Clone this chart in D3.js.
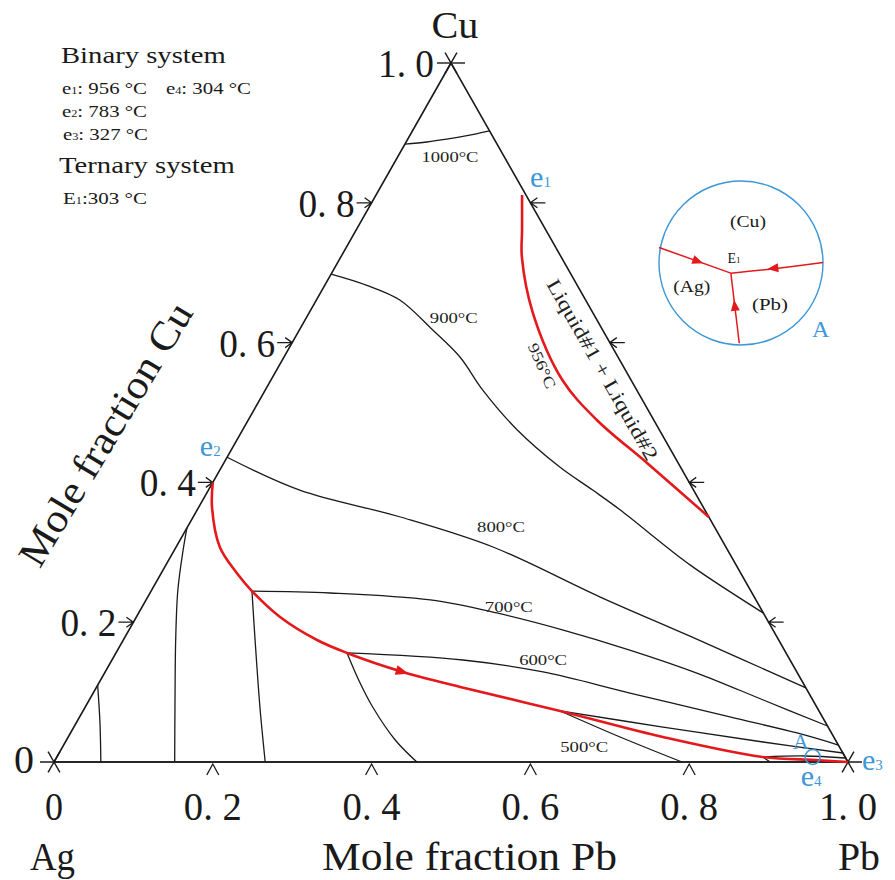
<!DOCTYPE html>
<html><head><meta charset="utf-8">
<script src="https://cdn.jsdelivr.net/npm/d3@7"></script>
<style>
body{margin:0;background:#fff}
svg{display:block}
text{font-family:"Liberation Serif","Times New Roman",serif;fill:#1a1a1a}
</style>
</head><body>
<svg id="chart" width="895" height="880"></svg>
<script>
// ---------------- data (ternary coordinates: [Pb fraction, Cu fraction]) ----------------
const tickValues = [0, 0.2, 0.4, 0.6, 0.8, 1.0];
const tickLabels = ["0", "0. 2", "0. 4", "0. 6", "0. 8", "1. 0"];
const innerTicks = [0.2, 0.4, 0.6, 0.8];

const iso1000 = [[0,0.884],[0.026,0.887],[0.049,0.891],[0.072,0.896],[0.097,0.903]];
const iso900  = [[0,0.698],[0.053,0.682],[0.105,0.661],[0.168,0.618],[0.222,0.579],[0.274,0.532],[0.346,0.475],[0.426,0.422],[0.484,0.389],[0.533,0.3605],[0.660,0.282],[0.787,0.213]];
const iso800  = [[0,0.436],[0.115,0.389],[0.261,0.3505],[0.399,0.3076],[0.570,0.236],[0.711,0.180],[0.894,0.106]];
const iso700  = [[0.127,0.2446],[0.227,0.2418],[0.358,0.2318],[0.451,0.2132],[0.547,0.1888],[0.645,0.1602],[0.746,0.1273],[0.849,0.0887],[0.9485,0.0515]];
const iso700b = [[0.127,0.2446],[0.166,0.1745],[0.220,0.0787],[0.266,0]];
const iso600  = [[0.291,0.156],[0.442,0.1459],[0.5515,0.1288],[0.676,0.0987],[0.819,0.0644],[0.915,0.0415],[0.9757,0.0243]];
const iso600b = [[0.291,0.156],[0.329,0.113],[0.362,0.0787],[0.414,0.0315],[0.457,0]];
const iso500  = [[0.601,0.073],[0.742,0.050],[0.8786,0.0286],[0.987,0.0129]];
const iso500b = [[0.601,0.073],[0.695,0.0358],[0.791,0]];
const iso400  = [[0.889,0.0072],[0.9415,0.0086],[0.994,0.0057]];
const iso400b = [[0.889,0.0072],[0.902,0]];
const isoAgA  = [[0,0.3348],[0.011,0.3033],[0.033,0.246],[0.066,0.1745],[0.113,0.0787],[0.152,0]];
const isoAgB  = [[0,0.110],[0.030,0.0558],[0.059,0]];

const isothermLabels = ["1000°C","900°C","800°C","700°C","600°C","500°C"];

const valleyE2 = [[0,0.4],[0.0166,0.3648],[0.055,0.3076],[0.095,0.2704],[0.127,0.2446],[0.181,0.2074],[0.244,0.1745],[0.291,0.156],[0.375,0.1288],[0.458,0.1073],[0.601,0.073],[0.749,0.0358],[0.889,0.0072],[0.957,0.0029],[1,0]];
const gapE1 = [[0.184,0.811],[0.209,0.761],[0.228,0.7225],[0.282,0.6423],[0.367,0.5465],[0.439,0.4893],[0.533,0.4278],[0.6495,0.3505]];

const binaryNames = ["e1","e2","e3","e4"];
const binaryTemps = [956, 783, 327, 304];
const ternaryNames = ["E1"];
const ternaryTemps = [303];

// inset (unit circle coordinates)
const insetFromAg = [[-1.0,-0.19],[-0.124,0.124]];
const insetFromCu = [[1.0,-0.005],[0.476,0.061],[-0.124,0.124]];
const insetFromPb = [[-0.021,0.979],[-0.124,0.124]];
const insetPhases = ["(Cu)","(Ag)","(Pb)"];

// ---------------- drawing ----------------
const svg = d3.select("#chart");
const BLACK = "#1a1a1a", RED = "#e3191c", BLUE = "#3d97d6";

const xs = d3.scaleLinear().domain([0,1]).range([54,848]);
const ys = d3.scaleLinear().domain([0,1]).range([762,63]);
const P = (b,c) => [xs(b + c/2), ys(c)];
const line = d3.line().x(d => P(d[0],d[1])[0]).y(d => P(d[0],d[1])[1]).curve(d3.curveCatmullRom.alpha(0.5));

function fit(sel, w){
  const n = sel.node(); const bw = n.getBBox().width;
  return bw > 0 ? w / bw : 1;
}
function addText(x, y, str, o){
  o = o || {};
  const g = svg.append("g");
  const t = g.append("text").attr("x",0).attr("y",0)
    .attr("font-size", o.size || 16)
    .attr("text-anchor", o.anchor || "start")
    .style("fill", o.color || BLACK);
  (Array.isArray(str) ? str : [[str]]).forEach(p => {
    const ts = t.append("tspan").text(p[0]);
    if (p[1]) ts.attr("font-size", p[1]);
  });
  const sx = o.width ? fit(t, o.width) : 1;
  g.attr("transform", `translate(${x},${y}) rotate(${o.rotate||0}) scale(${sx},1)`);
  return g;
}

// triangle
const A = P(0,0), B = P(1,0), C = P(0,1);
svg.append("path").attr("d", `M${C}L${A}L${B}Z`).attr("fill","none").attr("stroke",BLACK).attr("stroke-width",1.6).attr("stroke-linejoin","miter");
// extended base line
svg.append("line").attr("x1",A[0]-14).attr("x2",B[0]+14).attr("y1",A[1]).attr("y2",A[1]).attr("stroke",BLACK).attr("stroke-width",1.6);

// vertex crosses
const ang = Math.atan2(ys(0)-ys(1), xs(0.5)-xs(0));
[A,B,C].forEach(v => {
  [ang, Math.PI-ang].forEach(a => {
    svg.append("line")
      .attr("x1", v[0]-12*Math.cos(a)).attr("y1", v[1]-12*Math.sin(a))
      .attr("x2", v[0]+12*Math.cos(a)).attr("y2", v[1]+12*Math.sin(a))
      .attr("stroke",BLACK).attr("stroke-width",1.4);
  });
});
svg.append("line").attr("x1",C[0]-14).attr("x2",C[0]+14).attr("y1",C[1]).attr("y2",C[1]).attr("stroke",BLACK).attr("stroke-width",1.4);

const tk = svg.append("g").attr("fill","none").attr("stroke",BLACK).attr("stroke-width",1.3);
innerTicks.forEach(v => {
  // left edge arrows (Cu)
  const L = P(0,v);
  tk.append("path").attr("d", `M${L[0]-15},${L[1]}H${L[0]}M${L[0]-7},${L[1]-5}L${L[0]},${L[1]}L${L[0]-7},${L[1]+5}`);
  // right edge arrows
  const R = P(1-v,v);
  tk.append("path").attr("d", `M${R[0]+15},${R[1]}H${R[0]}M${R[0]+7},${R[1]-5}L${R[0]},${R[1]}L${R[0]+7},${R[1]+5}`);
  // base chevrons (Pb)
  const Bt = P(v,0);
  tk.append("path").attr("d", `M${Bt[0]-6},${Bt[1]+13}L${Bt[0]},${Bt[1]+2}L${Bt[0]+6},${Bt[1]+13}`);
});

// tick labels
tickValues.forEach((v,i) => {
  const L = P(0,v);
  if (i === 0) addText(L[0]-20, L[1]+11, tickLabels[i], {size:40, anchor:"end"});
  else addText(L[0]-17, L[1]+14, tickLabels[i], {size:40, anchor:"end", width:56});
  const Bt = P(v,0);
  addText(Bt[0], 820, tickLabels[i], {size:40, anchor:"middle", width: i===0?18:58});
});

// axis titles
addText(455, 38, "Cu", {size:38, anchor:"middle", width:47});
addText(30, 870, "Ag", {size:40, width:45});
addText(838, 870, "Pb", {size:40, width:42});
addText(322, 870, "Mole fraction Pb", {size:40, width:295});
addText(117, 441, "Mole fraction Cu", {size:40, anchor:"middle", rotate:-59, width:300});

// isotherms
const iso = svg.append("g").attr("fill","none").attr("stroke",BLACK).attr("stroke-width",1.3);
[iso1000, iso900, iso800, iso700, iso700b, iso600, iso600b, iso500, iso500b, iso400, iso400b, isoAgA, isoAgB]
  .forEach(d => iso.append("path").attr("d", line(d)));

// isotherm labels
const labelAt = [[0.066,0.8655],[0.186,0.635],[0.395,0.336],[0.462,0.2217],[0.543,0.146],[0.657,0.0215]];
isothermLabels.forEach((s,i) => {
  const p = P(labelAt[i][0], labelAt[i][1]);
  addText(p[0], p[1]+5, s, {size:15.5, anchor:"middle", width: i===0?57:48, color:"#222"});
});
{ const p = P(0.323,0.571); addText(p[0], p[1]+5, "956°C", {size:15.5, anchor:"middle", rotate:66, width:48, color:"#222"}); }
{ const p = P(0.401,0.565); addText(p[0], p[1]+6, "Liquid#1 + Liquid#2", {size:20, anchor:"middle", rotate:60.4, width:205, color:"#222"}); }

// red univariant lines
const red = svg.append("g").attr("fill","none").attr("stroke",RED).attr("stroke-width",2.6);
red.append("path").attr("d", line(valleyE2));
red.append("path").attr("d", line(gapE1));
// arrow on valley
{
  const p0 = P(valleyE2[7][0], valleyE2[7][1]), p1 = P(valleyE2[8][0], valleyE2[8][1]), p2 = P(valleyE2[9][0], valleyE2[9][1]);
  const a = Math.atan2(p2[1]-p0[1], p2[0]-p0[0]) * 180/Math.PI;
  svg.append("path").attr("d","M6,0L-7,-5L-7,5Z").attr("fill",RED)
    .attr("transform",`translate(${p1[0]},${p1[1]}) rotate(${a})`);
}

// blue point labels
const sub = 15;
{ const p = P(0.184,0.811); addText(p[0]+8, p[1]-8, [["e",30],["1",sub]], {color:BLUE}); }
{ const p = P(0,0.4); addText(p[0]-13, p[1]-26, [["e",30],["2",sub]], {color:BLUE}); }
{ const p = P(1,0); addText(p[0]+14, p[1]+8, [["e",30],["3",sub]], {color:BLUE}); }
{ const p = P(0.953,0); addText(p[0]-10, p[1]+24, [["e",30],["4",sub]], {color:BLUE}); }
{ const p = P(0.953,0); addText(p[0]-18, p[1]-13, "A", {size:22, color:BLUE}); 
  svg.append("circle").attr("cx",p[0]+2).attr("cy",p[1]-5).attr("r",7.5).attr("fill","none").attr("stroke",BLUE).attr("stroke-width",1.6); }

// legend
addText(61, 63, "Binary system", {size:23, width:165});
const legPos = [[62,94],[62,117],[63,140],[166,94]];
binaryNames.forEach((n,i) => {
  addText(legPos[i][0], legPos[i][1], [["e",17],[n[1],10],[": "+binaryTemps[i]+" °C",17]], {width:85});
});
addText(59, 173, "Ternary system", {size:23, width:176});
ternaryNames.forEach((n,i) => {
  addText(63, 204, [["E",17],[n[1],10],[":"+ternaryTemps[i]+" °C",17]], {width:84});
});

// inset
const icx = 741, icy = 263, ir = 82;
const ix = d3.scaleLinear().domain([-1,1]).range([icx-ir, icx+ir]);
const iy = d3.scaleLinear().domain([-1,1]).range([icy-ir, icy+ir]);
svg.append("circle").attr("cx",icx).attr("cy",icy).attr("r",ir).attr("fill","none").attr("stroke",BLUE).attr("stroke-width",1.4);
const iline = d3.line().x(d=>ix(d[0])).y(d=>iy(d[1])).curve(d3.curveCatmullRom);
[insetFromAg, insetFromCu, insetFromPb].forEach(d => {
  svg.append("path").attr("d", iline(d)).attr("fill","none").attr("stroke",RED).attr("stroke-width",1.5);
  const s = d[0], e = d[d.length-1];
  const t = 0.55;
  const mx = ix(s[0] + (e[0]-s[0])*t), my = iy(s[1] + (e[1]-s[1])*t);
  const a = Math.atan2(iy(e[1])-iy(s[1]), ix(e[0])-ix(s[0]))*180/Math.PI;
  svg.append("path").attr("d","M5,0L-6,-4.5L-6,4.5Z").attr("fill",RED).attr("transform",`translate(${mx},${my}) rotate(${a})`);
});
addText(ix(0.085), iy(-0.44), insetPhases[0], {size:17, anchor:"middle", width:36});
addText(ix(-0.6), iy(0.35), insetPhases[1], {size:17, anchor:"middle", width:37});
addText(ix(0.354), iy(0.57), insetPhases[2], {size:17, anchor:"middle", width:36});
addText(ix(-0.085), iy(0.0), [["E",14],["1",9]], {anchor:"middle"});
addText(812, 337, "A", {size:24, color:BLUE});
</script>
</body></html>
